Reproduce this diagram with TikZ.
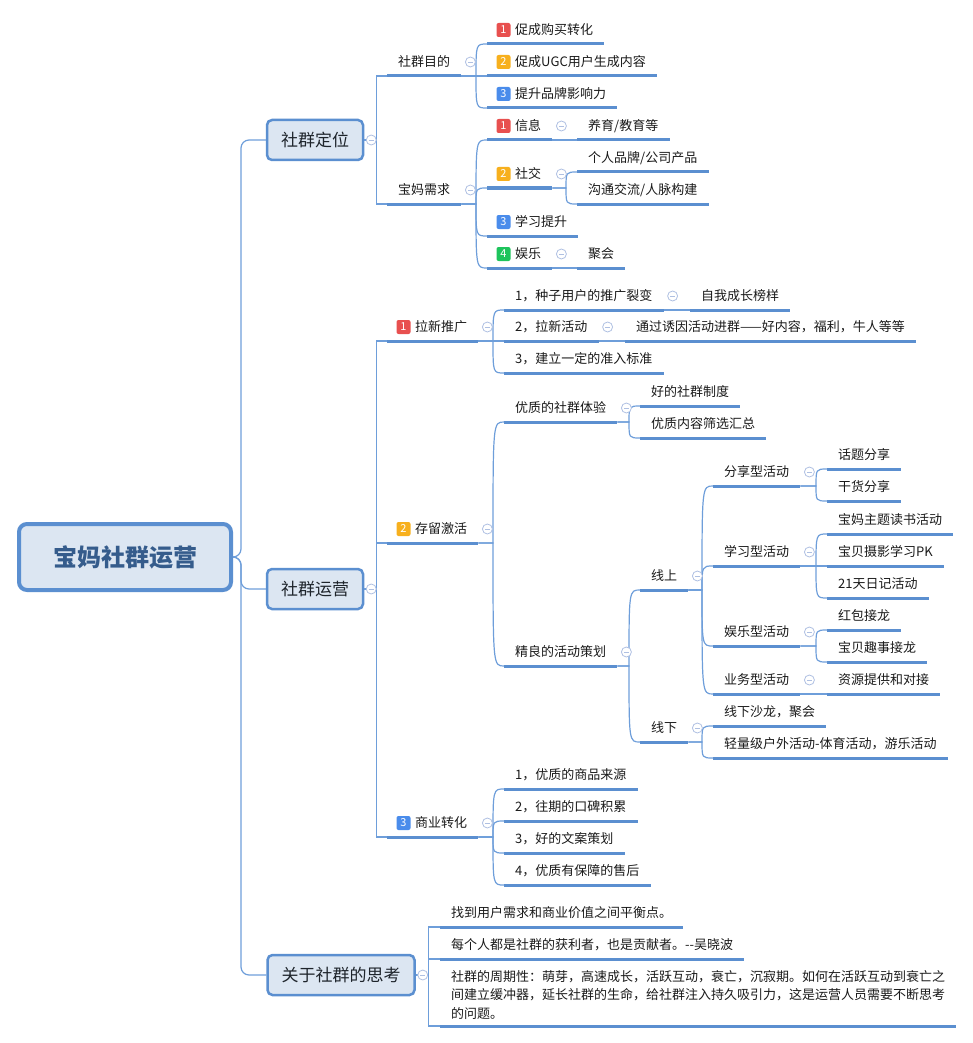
\documentclass[tikz,border=0pt]{standalone}
\usepackage{fontspec}
\setmainfont{Noto Sans CJK SC}
\usepackage{xcolor}
\usepackage{tikz}
\usetikzlibrary{calc}
\definecolor{mmline}{HTML}{5B8FD0}
\definecolor{mmlink}{HTML}{6E9EDA}
\definecolor{mmfill}{HTML}{DCE6F2}
\definecolor{mmroot}{HTML}{355C8C}
\definecolor{mmtext}{HTML}{1A1A1A}
\definecolor{mmfold}{HTML}{AFC0E2}
\definecolor{mmred}{HTML}{E8504F}
\definecolor{mmorange}{HTML}{F7B01E}
\definecolor{mmblue}{HTML}{4A8CEB}
\definecolor{mmgreen}{HTML}{1EC45C}

\tikzset{
  link/.style={draw=mmlink, line width=1.2pt},
  topic/.style={anchor=south west, inner xsep=11pt, inner ysep=0pt, text height=10pt, text depth=9pt,
    text=mmtext, font=\fontsize{13}{16}\selectfont,
    append after command={(\tikzlastnode.south west) edge[draw=mmline, line width=3pt] (\tikzlastnode.south east)}},
  box/.style={draw=mmline, line width=2.5pt, fill=mmfill, rounded corners=5pt, minimum height=40pt,
    inner xsep=14pt, text=mmtext!85!mmroot, font=\fontsize{17}{20}\selectfont},
  rootbox/.style={draw=mmline, line width=4pt, fill=mmfill, rounded corners=8pt, minimum width=212pt,
    minimum height=66pt, text=mmroot, font=\fontsize{24}{28}\selectfont\bfseries},
  badge/.style={fill=#1, rounded corners=2pt, minimum size=14pt, inner sep=0pt, text=white,
    font=\fontsize{11}{11}\selectfont},
  fold/.style={circle, draw=mmfold, fill=white, line width=0.8pt, minimum size=10pt, inner sep=0pt,
    path picture={\draw[mmfold, line width=0.8pt] ([xshift=-2.6pt]path picture bounding box.center)
      -- ([xshift=2.6pt]path picture bounding box.center);}}
}

\newcommand{\tagsp}{\hspace*{17pt}}
\newcommand{\curvelink}[2]{\draw[link] (#1.south east) -- ($(#1.south east -| #2.south west)+(-11,0)$)
  .. controls ($(#2.south west)+(-11,0)$) .. (#2.south west);}
\newcommand{\numbadge}[3]{\node[badge=#2] (b-#1) at ([shift={(16.5,-14)}]#1.south west) {#3};}
\newcommand{\foldat}[1]{\node[fold] (f-#1) at ([shift={(9,-14)}]#1.south east) {};}

\begin{document}
\begin{tikzpicture}[x=1pt, y=-1pt]
  \useasboundingbox (0,0) rectangle (973,1043);
  % root and main branches
  \node[rootbox] (root) at (125,557) {宝妈社群运营};
  \node[box] (dwei) at (315,140) {社群定位};
  \node[box] (yy) at (315,589) {社群运营};
  \node[box] (sk) at (341,975) {关于社群的思考};

  % 社群定位
  \node[topic] (goal) at (387,76) {社群目的};
  \node[topic] (g1) at (487,44) {\tagsp 促成购买转化};
  \node[topic] (g2) at (487,76) {\tagsp 促成UGC用户生成内容};
  \node[topic] (g3) at (487,108) {\tagsp 提升品牌影响力};
  \node[topic] (need) at (387,204) {宝妈需求};
  \node[topic] (n1) at (487,140) {\tagsp 信息};
  \node[topic] (n1a) at (577,140) {养育/教育等};
  \node[topic] (n2) at (487,188) {\tagsp 社交};
  \node[topic] (n2a) at (577,172) {个人品牌/公司产品};
  \node[topic] (n2b) at (577,204) {沟通交流/人脉构建};
  \node[topic] (n3) at (487,236) {\tagsp 学习提升};
  \node[topic] (n4) at (487,268) {\tagsp 娱乐};
  \node[topic] (n4a) at (577,268) {聚会};

  % 社群运营
  \node[topic] (pull) at (387,341) {\tagsp 拉新推广};
  \node[topic] (p1) at (504,310) {1，种子用户的推广裂变};
  \node[topic] (p1a) at (690,310) {自我成长榜样};
  \node[topic] (p2) at (504,341) {2，拉新活动};
  \node[topic] (p2a) at (625,341) {通过诱因活动进群——好内容，福利，牛人等等};
  \node[topic] (p3) at (504,373) {3，建立一定的准入标准};
  \node[topic] (keep) at (387,543) {\tagsp 存留激活};
  \node[topic] (k1) at (504,422) {优质的社群体验};
  \node[topic] (k1a) at (640,406) {好的社群制度};
  \node[topic] (k1b) at (640,438) {优质内容筛选汇总};
  \node[topic] (k2) at (504,666) {精良的活动策划};
  \node[topic] (online) at (640,590) {线上};
  \node[topic] (s1) at (713,486) {分享型活动};
  \node[topic] (s1a) at (827,469) {话题分享};
  \node[topic] (s1b) at (827,501) {干货分享};
  \node[topic] (s2) at (713,566) {学习型活动};
  \node[topic] (s2a) at (827,534) {宝妈主题读书活动};
  \node[topic] (s2b) at (827,566) {宝贝摄影学习PK};
  \node[topic] (s2c) at (827,598) {21天日记活动};
  \node[topic] (s3) at (713,646) {娱乐型活动};
  \node[topic] (s3a) at (827,630) {红包接龙};
  \node[topic] (s3b) at (827,662) {宝贝趣事接龙};
  \node[topic] (s4) at (713,694) {业务型活动};
  \node[topic] (s4a) at (827,694) {资源提供和对接};
  \node[topic] (offline) at (640,742) {线下};
  \node[topic] (f1) at (713,726) {线下沙龙，聚会};
  \node[topic] (f2) at (713,758) {轻量级户外活动-体育活动，游乐活动};
  \node[topic] (biz) at (387,837) {\tagsp 商业转化};
  \node[topic] (c1) at (504,789) {1，优质的商品来源};
  \node[topic] (c2) at (504,821) {2，往期的口碑积累};
  \node[topic] (c3) at (504,853) {3，好的文案策划};
  \node[topic] (c4) at (504,885) {4，优质有保障的售后};

  % 关于社群的思考
  \node[topic] (t1) at (440,927) {找到用户需求和商业价值之间平衡点。};
  \node[topic] (t2) at (440,959) {每个人都是社群的获利者，也是贡献者。-\kern0pt-吴晓波};
  \node[topic, text height={}, text depth={}, inner ysep=6.5pt, align=left, font=\fontsize{13}{18.5}\selectfont] (t3) at (440,1026)
    {社群的周期性：萌芽，高速成长，活跃互动，衰亡，沉寂期。如何在活跃互动到衰亡之\\间建立缓冲器，延长社群的生命，给社群注入持久吸引力，这是运营人员需要不断思考\\的问题。};

  % connectors
  \foreach \c in {dwei,yy,sk}
    \draw[link, rounded corners=8pt] (root.east) -- ++(8,0) |- (\c.west);
  \foreach \c in {goal,need}
    \draw[link] (dwei.east) -- ++(12,0) |- (\c.south west);
  \foreach \c in {pull,keep,biz}
    \draw[link] (yy.east) -- ++(12,0) |- (\c.south west);
  \foreach \c in {t1,t2,t3}
    \draw[link] (sk.east) -- ++(13,0) |- (\c.south west);
  \foreach \c in {g1,g2,g3} {\curvelink{goal}{\c}}
  \foreach \c in {n1,n2,n3,n4} {\curvelink{need}{\c}}
  \curvelink{n1}{n1a}
  \curvelink{n2}{n2a}
  \curvelink{n2}{n2b}
  \curvelink{n4}{n4a}
  \foreach \c in {p1,p2,p3} {\curvelink{pull}{\c}}
  \curvelink{p1}{p1a}
  \curvelink{p2}{p2a}
  \foreach \c in {k1,k2} {\curvelink{keep}{\c}}
  \curvelink{k1}{k1a}
  \curvelink{k1}{k1b}
  \curvelink{k2}{online}
  \curvelink{k2}{offline}
  \foreach \c in {s1,s2,s3,s4} {\curvelink{online}{\c}}
  \curvelink{s1}{s1a}
  \curvelink{s1}{s1b}
  \foreach \c in {s2a,s2b,s2c} {\curvelink{s2}{\c}}
  \curvelink{s3}{s3a}
  \curvelink{s3}{s3b}
  \curvelink{s4}{s4a}
  \curvelink{offline}{f1}
  \curvelink{offline}{f2}
  \foreach \c in {c1,c2,c3,c4} {\curvelink{biz}{\c}}

  % number badges
  \numbadge{g1}{mmred}{1}
  \numbadge{g2}{mmorange}{2}
  \numbadge{g3}{mmblue}{3}
  \numbadge{n1}{mmred}{1}
  \numbadge{n2}{mmorange}{2}
  \numbadge{n3}{mmblue}{3}
  \numbadge{n4}{mmgreen}{4}
  \numbadge{pull}{mmred}{1}
  \numbadge{keep}{mmorange}{2}
  \numbadge{biz}{mmblue}{3}

  % fold markers
  \foreach \c in {dwei,yy,sk}
    \node[fold] (f-\c) at ([xshift=7pt]\c.east) {};
  \foreach \c in {goal,need,n1,n2,n4,pull,p1,p2,keep,k1,k2,online,offline,s1,s2,s3,s4,biz} {\foldat{\c}}
\end{tikzpicture}
\end{document}
